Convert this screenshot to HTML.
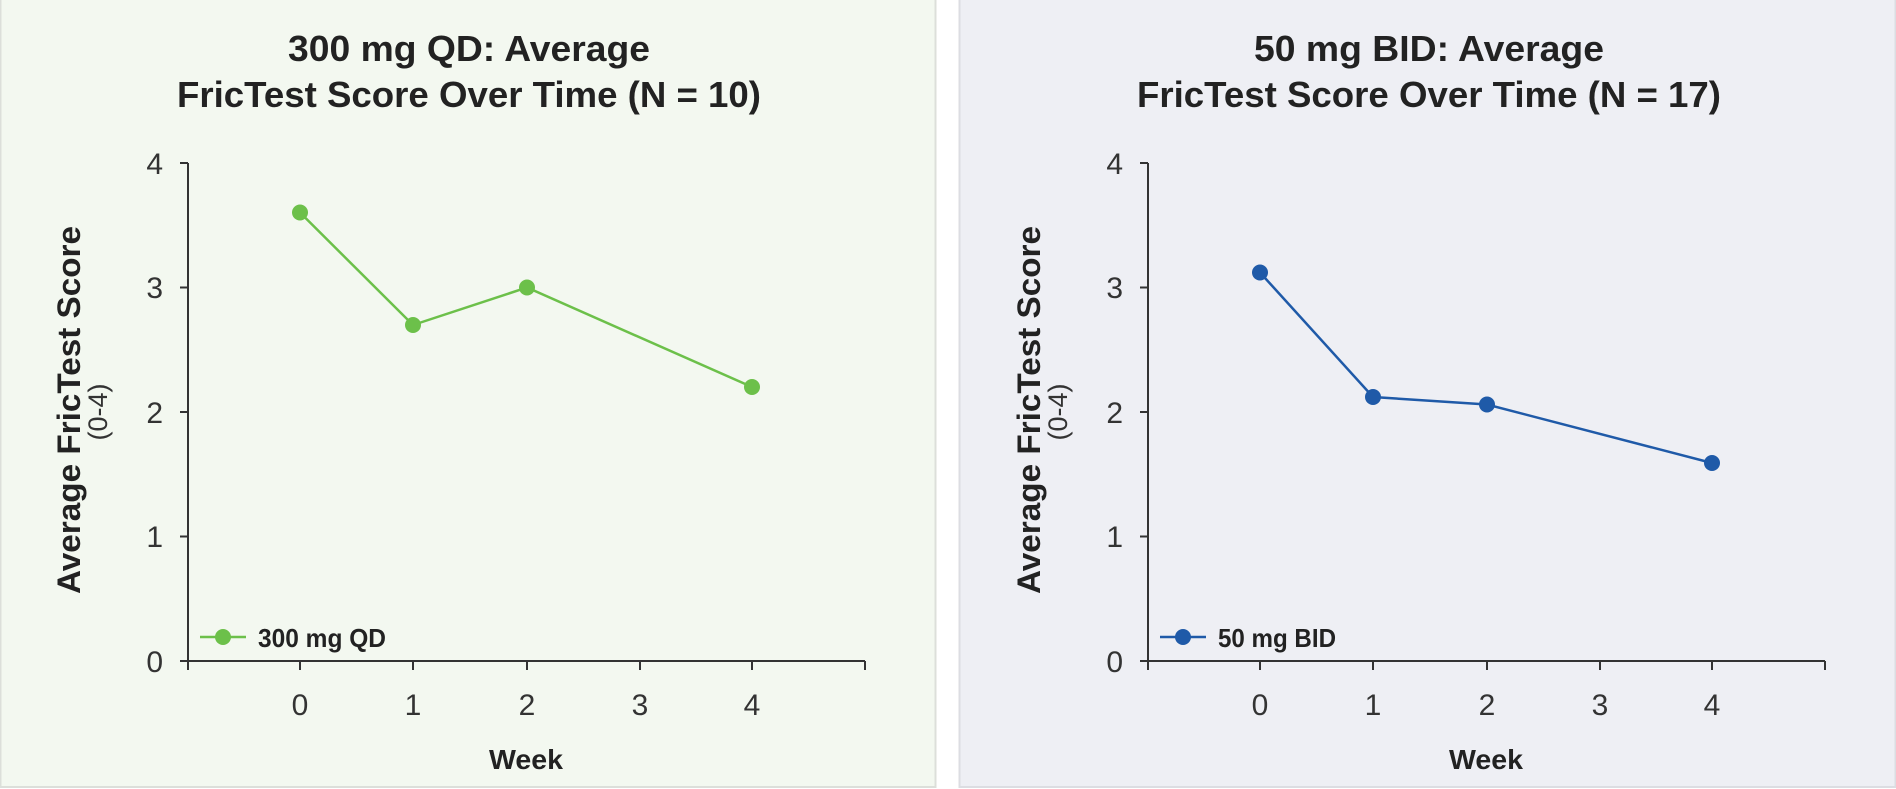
<!DOCTYPE html>
<html><head><meta charset="utf-8"><style>
html,body{margin:0;padding:0;background:#fff;}
svg{display:block;font-family:"Liberation Sans",Arial,sans-serif;}
</style></head><body>
<svg width="1896" height="789" viewBox="0 0 1896 789" xmlns="http://www.w3.org/2000/svg">
<rect x="0.5" y="-1" width="935" height="788" fill="#f3f8f0" stroke="#dcdfda" stroke-width="2"/>
<rect x="959.5" y="-1" width="936" height="788" fill="#eeeff4" stroke="#dcdde2" stroke-width="2"/>

<g id="L">
<text x="469" y="61" text-anchor="middle" font-size="36" font-weight="bold" fill="#222" textLength="362" lengthAdjust="spacingAndGlyphs">300 mg QD: Average</text>
<text x="469" y="107" text-anchor="middle" font-size="36" font-weight="bold" fill="#222" textLength="584" lengthAdjust="spacingAndGlyphs">FricTest Score Over Time (N = 10)</text>
<g stroke="#333" stroke-width="2" fill="none">
<path d="M188 163V661H865"/>
<path d="M180 163H188M180 287.5H188M180 412H188M180 536.5H188M180 661H188"/>
<path d="M188 661V670M300 661V670M413 661V670M527 661V670M640 661V670M752 661V670M865 661V670"/>
</g>
<g font-size="30" fill="#333" text-anchor="end">
<text x="163" y="174">4</text><text x="163" y="298">3</text><text x="163" y="423">2</text><text x="163" y="547">1</text><text x="163" y="672">0</text>
</g>
<g font-size="30" fill="#333" text-anchor="middle">
<text x="300" y="715">0</text><text x="413" y="715">1</text><text x="527" y="715">2</text><text x="640" y="715">3</text><text x="752" y="715">4</text>
</g>
<text x="526" y="769" text-anchor="middle" font-size="28" font-weight="bold" fill="#222" textLength="74" lengthAdjust="spacingAndGlyphs">Week</text>
<text transform="translate(80,410) rotate(-90)" text-anchor="middle" font-size="32" font-weight="bold" fill="#222" textLength="368" lengthAdjust="spacingAndGlyphs">Average FricTest Score</text>
<text transform="translate(107,412) rotate(-90)" text-anchor="middle" font-size="27" fill="#333">(0-4)</text>
<polyline points="300,212.5 413,325 527,287.5 752,387" fill="none" stroke="#6cc04a" stroke-width="2.5"/>
<g fill="#6cc04a"><circle cx="300" cy="212.5" r="8"/><circle cx="413" cy="325" r="8"/><circle cx="527" cy="287.5" r="8"/><circle cx="752" cy="387" r="8"/></g>
<line x1="200" y1="637" x2="246" y2="637" stroke="#6cc04a" stroke-width="2.5"/>
<circle cx="223" cy="637" r="8" fill="#6cc04a"/>
<text x="258" y="647" font-size="26" font-weight="bold" fill="#222" textLength="128" lengthAdjust="spacingAndGlyphs">300 mg QD</text>
</g>

<g id="R" transform="translate(960,0)">
<text x="469" y="61" text-anchor="middle" font-size="36" font-weight="bold" fill="#222" textLength="350" lengthAdjust="spacingAndGlyphs">50 mg BID: Average</text>
<text x="469" y="107" text-anchor="middle" font-size="36" font-weight="bold" fill="#222" textLength="584" lengthAdjust="spacingAndGlyphs">FricTest Score Over Time (N = 17)</text>
<g stroke="#333" stroke-width="2" fill="none">
<path d="M188 163V661H865"/>
<path d="M180 163H188M180 287.5H188M180 412H188M180 536.5H188M180 661H188"/>
<path d="M188 661V670M300 661V670M413 661V670M527 661V670M640 661V670M752 661V670M865 661V670"/>
</g>
<g font-size="30" fill="#333" text-anchor="end">
<text x="163" y="174">4</text><text x="163" y="298">3</text><text x="163" y="423">2</text><text x="163" y="547">1</text><text x="163" y="672">0</text>
</g>
<g font-size="30" fill="#333" text-anchor="middle">
<text x="300" y="715">0</text><text x="413" y="715">1</text><text x="527" y="715">2</text><text x="640" y="715">3</text><text x="752" y="715">4</text>
</g>
<text x="526" y="769" text-anchor="middle" font-size="28" font-weight="bold" fill="#222" textLength="74" lengthAdjust="spacingAndGlyphs">Week</text>
<text transform="translate(80,410) rotate(-90)" text-anchor="middle" font-size="32" font-weight="bold" fill="#222" textLength="368" lengthAdjust="spacingAndGlyphs">Average FricTest Score</text>
<text transform="translate(107,412) rotate(-90)" text-anchor="middle" font-size="27" fill="#333">(0-4)</text>
<polyline points="300,272.5 413,397 527,404.5 752,463" fill="none" stroke="#1f5aa8" stroke-width="2.5"/>
<g fill="#1f5aa8"><circle cx="300" cy="272.5" r="8"/><circle cx="413" cy="397" r="8"/><circle cx="527" cy="404.5" r="8"/><circle cx="752" cy="463" r="8"/></g>
<line x1="200" y1="637" x2="246" y2="637" stroke="#1f5aa8" stroke-width="2.5"/>
<circle cx="223" cy="637" r="8" fill="#1f5aa8"/>
<text x="258" y="647" font-size="26" font-weight="bold" fill="#222" textLength="118" lengthAdjust="spacingAndGlyphs">50 mg BID</text>
</g>
</svg>
</body></html>
